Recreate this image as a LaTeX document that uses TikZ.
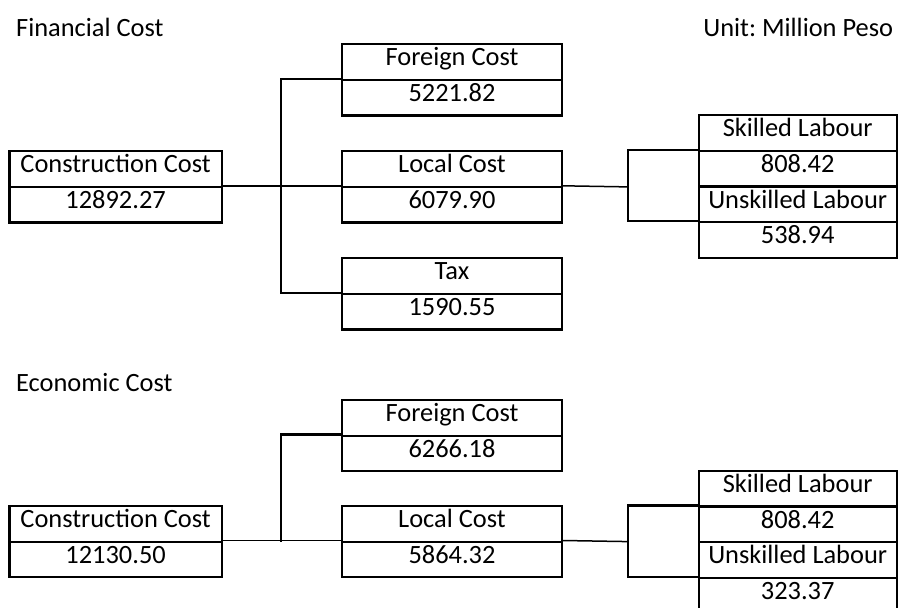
\documentclass[tikz,border=0pt]{standalone}
\usepackage{fontspec}
\setmainfont{Carlito}
\frenchspacing
\begin{document}
\begin{tikzpicture}[x=1pt,y=-1pt,
  txt/.style={inner sep=0pt,font=\fontsize{26.4}{30}\selectfont},
  cell/.style={txt,draw,line width=2.2pt,rectangle,minimum height=35.6pt,
    text height=0.76em,text depth=0pt},
  leftcell/.style={cell,minimum width=212.2pt},
  midcell/.style={cell,minimum width=219.4pt},
  rightcell/.style={cell,minimum width=198pt},
  link/.style={line width=1.5pt},
  brk/.style={line width=2.2pt}]
\useasboundingbox (0,0) rectangle (898,608);

% ---------- titles ----------
\node[txt,anchor=base west] (tfin) at (16,36.7) {Financial Cost};
\node[txt,anchor=base east] (tunit) at (893.3,36.7) {Unit: Million Peso};
\node[txt,anchor=base west] (teco) at (16,391.7) {Economic Cost};

% ---------- financial cost ----------
\node[leftcell] (fcc)  at (115.6,169.1) {Construction Cost};
\node[leftcell] (fccv) at (115.6,204.7) {12892.27};

\node[midcell] (ff)  at (452,62.1) {Foreign Cost};
\node[midcell] (ffv) at (452,97.7) {5221.82};
\node[midcell] (fl)  at (452,169.1) {Local Cost};
\node[midcell] (flv) at (452,204.7) {6079.90};
\node[midcell] (ft)  at (452,276.1) {Tax};
\node[midcell] (ftv) at (452,311.7) {1590.55};

\node[rightcell] (fsk)  at (797.7,133.1) {Skilled Labour};
\node[rightcell] (fskv) at (797.7,168.7) {808.42};
\node[rightcell] (ful)  at (797.7,204.3) {Unskilled Labour};
\node[rightcell] (fulv) at (797.7,239.9) {538.94};

\coordinate (fb1) at (281,186.9);
\coordinate (fb2) at (628,186.9);
\draw[link] (fccv.north east) -- (flv.north west);
\draw[brk] (ffv.north west) -| (fb1) |- (ftv.north west);
\draw[link] (flv.north east) -- (fb2);
\draw[brk] (fskv.north west) -| (fb2) |- (fulv.north west);

% ---------- economic cost ----------
\node[leftcell] (ecc)  at (115.6,523.8) {Construction Cost};
\node[leftcell] (eccv) at (115.6,559.4) {12130.50};

\node[midcell] (ef)  at (452,417.8) {Foreign Cost};
\node[midcell] (efv) at (452,453.4) {6266.18};
\node[midcell] (el)  at (452,523.8) {Local Cost};
\node[midcell] (elv) at (452,559.4) {5864.32};

\node[rightcell] (esk)  at (797.7,488.7) {Skilled Labour};
\node[rightcell] (eskv) at (797.7,524.3) {808.42};
\node[rightcell] (eul)  at (797.7,559.9) {Unskilled Labour};
\node[rightcell] (eulv) at (797.7,595.5) {323.37};

\coordinate (eb1) at (281,541.6);
\coordinate (eb2) at (628,541.6);
\draw[link] (eccv.north east) -- (elv.north west);
\draw[brk] (efv.north west) -| (eb1);
\draw[link] (elv.north east) -- (eb2);
\draw[brk] (eskv.north west) -| (eb2) |- (eulv.north west);
\end{tikzpicture}
\end{document}
